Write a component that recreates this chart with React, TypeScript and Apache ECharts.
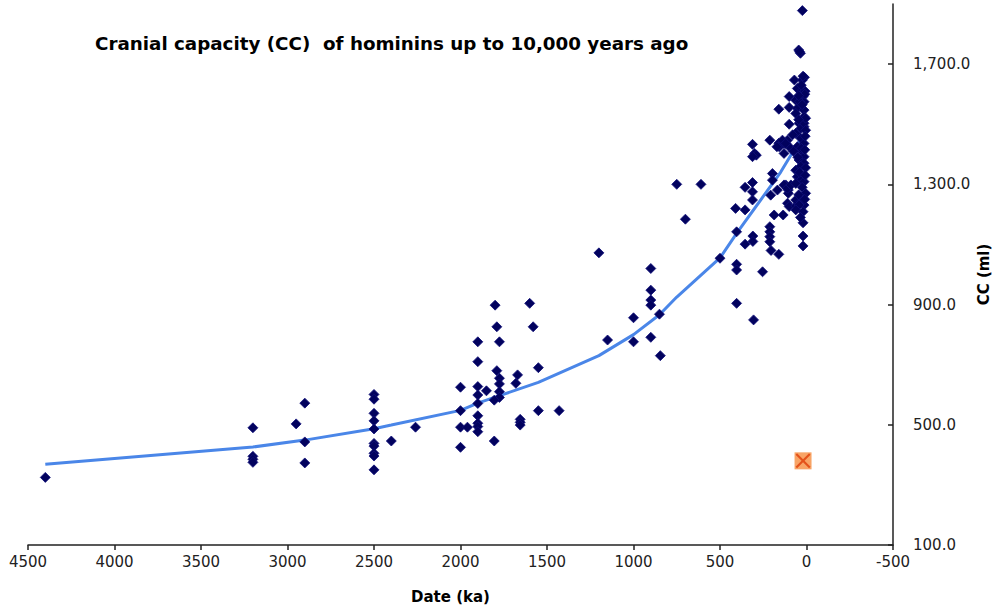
import React, { useEffect, useRef } from "react";
import * as echarts from "echarts";

const titleText = "Cranial capacity (CC)  of hominins up to 10,000 years ago";
const xName = "Date (ka)";
const yName = "CC (ml)";

// Fossil specimens: [date (ka), cranial capacity (ml)]
const specimens: [number, number][] = [
  [4400, 325],
  [3200, 490], [3200, 395], [3200, 385], [3200, 375],
  [2950, 503], [2900, 572], [2900, 443], [2900, 373],
  [2500, 601], [2500, 585], [2500, 538], [2500, 513], [2500, 486], [2500, 438], [2500, 429], [2500, 405], [2500, 396], [2500, 350],
  [2400, 446], [2260, 492],
  [2000, 625], [2000, 547], [2000, 492], [2000, 425], [1960, 492],
  [1900, 776], [1900, 710], [1900, 627], [1900, 599], [1900, 571], [1900, 530], [1900, 505], [1900, 494], [1900, 477],
  [1850, 613],
  [1800, 898], [1790, 826], [1775, 776], [1790, 680], [1775, 655], [1775, 636], [1775, 610], [1775, 591], [1805, 582], [1805, 446],
  [1670, 666], [1680, 638], [1655, 518], [1655, 508], [1655, 499],
  [1600, 904], [1580, 826], [1550, 690], [1550, 547], [1430, 547],
  [1200, 1072], [1150, 782], [1000, 856], [1000, 776],
  [900, 1020], [900, 948], [900, 915], [900, 898], [900, 791], [850, 868], [845, 730],
  [750, 1300], [610, 1300], [700, 1184], [500, 1054],
  [410, 1220], [404, 1142], [404, 1034], [404, 1015], [404, 904], [355, 1290], [355, 1215], [355, 1101],
  [312, 1433], [300, 1403], [290, 1397], [312, 1392], [312, 1306], [312, 1275], [312, 1248], [310, 1128], [310, 1110], [306, 849],
  [254, 1009],
  [212, 1447], [197, 1336], [197, 1314], [207, 1264], [187, 1198], [212, 1159], [212, 1142], [212, 1126], [212, 1109], [205, 1080],
  [160, 1067], [160, 1550], [160, 1437], [158, 1425], [130, 1436], [110, 1447], [100, 1425], [130, 1403],
  [168, 1281], [135, 1198], [120, 1298], [105, 1281], [105, 1270], [110, 1237], [100, 1226],
  [130, 1298], [110, 1287], [90, 1298],
  [62, 1228], [33, 1248], [62, 1248], [33, 1242], [14, 1231], [43, 1231], [62, 1215],
  [20, 1209], [20, 1172], [20, 1128], [20, 1095],
  [62, 1347], [53, 1325], [33, 1314], [62, 1303], [14, 1309],
  [24, 1878], [45, 1747], [35, 1736], [40, 1741],
  [12, 1656], [70, 1647], [24, 1647], [53, 1619], [33, 1608], [20, 1592], [100, 1592], [62, 1580], [14, 1575],
  [100, 1556], [53, 1553], [14, 1547], [62, 1536], [14, 1525], [100, 1500], [43, 1503], [14, 1492],
  [33, 1486], [14, 1503], [62, 1470], [33, 1453], [14, 1436], [53, 1425], [24, 1408], [14, 1392], [43, 1381], [14, 1370], [33, 1360],
  [5, 1480], [8, 1460], [30, 1420], [10, 1415], [50, 1390], [5, 1355], [40, 1340], [8, 1330],
  [25, 1290], [5, 1270], [45, 1265], [10, 1250], [35, 1190], [8, 1610], [30, 1630], [5, 1520], [45, 1515],
  [80, 1465], [75, 1410], [171, 1425], [139, 1447], [120, 1436],
  [20, 1660], [40, 1575], [25, 1565], [10, 1600], [45, 1595],
];

// Trend line: [date (ka), cranial capacity (ml)]
const trend: [number, number][] = [
  [4400, 369], [3200, 426], [2900, 449], [2500, 487], [2400, 499], [2000, 548],
  [1900, 572], [1800, 592], [1550, 641], [1200, 730], [1000, 800], [850, 866],
  [750, 925], [500, 1055], [400, 1140], [250, 1260], [150, 1340], [40, 1445],
];

// Homo floresiensis
const floresiensis: [number, number][] = [[20, 380]];

const xMin = -500;
const xMax = 4500;
const xStep = 500;
const yMin = 100;
const yMax = 1900;
const yStep = 400;

const FONT = "DejaVu Sans";

export default function App() {
  const ref = useRef<HTMLDivElement>(null);

  useEffect(() => {
    if (!ref.current) return;
    const chart = echarts.init(ref.current, undefined, { renderer: "svg" });
    chart.setOption({
      animation: false,
      backgroundColor: "#ffffff",
      title: {
        text: titleText,
        left: 95,
        top: 34,
        padding: 0,
        textStyle: { fontFamily: FONT, fontSize: 18.3, fontWeight: "bold", color: "#000" },
      },
      grid: { left: 28, right: 101, top: 4, bottom: 67, containLabel: false, outerBoundsMode: "none" },
      xAxis: {
        type: "value",
        inverse: true,
        min: xMin,
        max: xMax,
        interval: xStep,
        name: xName,
        nameLocation: "middle",
        nameGap: 44,
        nameMoveOverlap: false,
        nameTextStyle: { fontFamily: FONT, fontSize: 15, fontWeight: "bold", color: "#000", padding: [0, 20, 0, 0] },
        axisLine: { show: true, onZero: false, lineStyle: { color: "#222", width: 1.5 } },
        axisTick: { show: true, inside: false, length: 5, lineStyle: { color: "#222", width: 1.5 } },
        axisLabel: {
          fontFamily: FONT,
          fontSize: 15,
          color: "#222",
          margin: 9,
          formatter: (v: number) => String(v),
        },
        splitLine: { show: false },
      },
      yAxis: {
        type: "value",
        position: "right",
        min: yMin,
        max: yMax,
        interval: yStep,
        name: yName,
        nameLocation: "middle",
        nameGap: 83,
        nameMoveOverlap: false,
        nameTextStyle: { fontFamily: FONT, fontSize: 15, fontWeight: "bold", color: "#000" },
        axisLine: { show: true, onZero: false, lineStyle: { color: "#222", width: 1.5 } },
        axisTick: { show: true, inside: true, length: 5, lineStyle: { color: "#222", width: 1.5 } },
        axisLabel: {
          fontFamily: FONT,
          fontSize: 15,
          color: "#222",
          margin: 20,
          showMaxLabel: false,
          formatter: (v: number) =>
            v.toLocaleString("en-US", { minimumFractionDigits: 1, maximumFractionDigits: 1 }),
        },
        splitLine: { show: false },
      },
      series: [
        {
          type: "line",
          data: trend,
          showSymbol: false,
          symbol: "none",
          lineStyle: { color: "#4a86e8", width: 3 },
          z: 3,
        },
        {
          type: "scatter",
          data: specimens,
          symbol: "diamond",
          symbolSize: 10,
          itemStyle: { color: "#02025e", opacity: 1, borderColor: "#10107a", borderWidth: 0.8 },
          z: 4,
        },
        {
          type: "scatter",
          data: floresiensis,
          symbol: "rect",
          symbolSize: 17,
          itemStyle: { color: "#f8a466", opacity: 1 },
          z: 5,
        },
        {
          type: "scatter",
          data: floresiensis,
          symbol: "path://M0,1L1,0L5,4L9,0L10,1L6,5L10,9L9,10L5,6L1,10L0,9L4,5Z",
          symbolSize: 15,
          itemStyle: { color: "#e4521b", opacity: 1 },
          z: 6,
        },
      ],
    });
    return () => chart.dispose();
  }, []);

  return (
    <div
      ref={ref}
      style={{ position: "fixed", left: 0, top: 0, width: 994, height: 612, background: "#fff" }}
    />
  );
}
